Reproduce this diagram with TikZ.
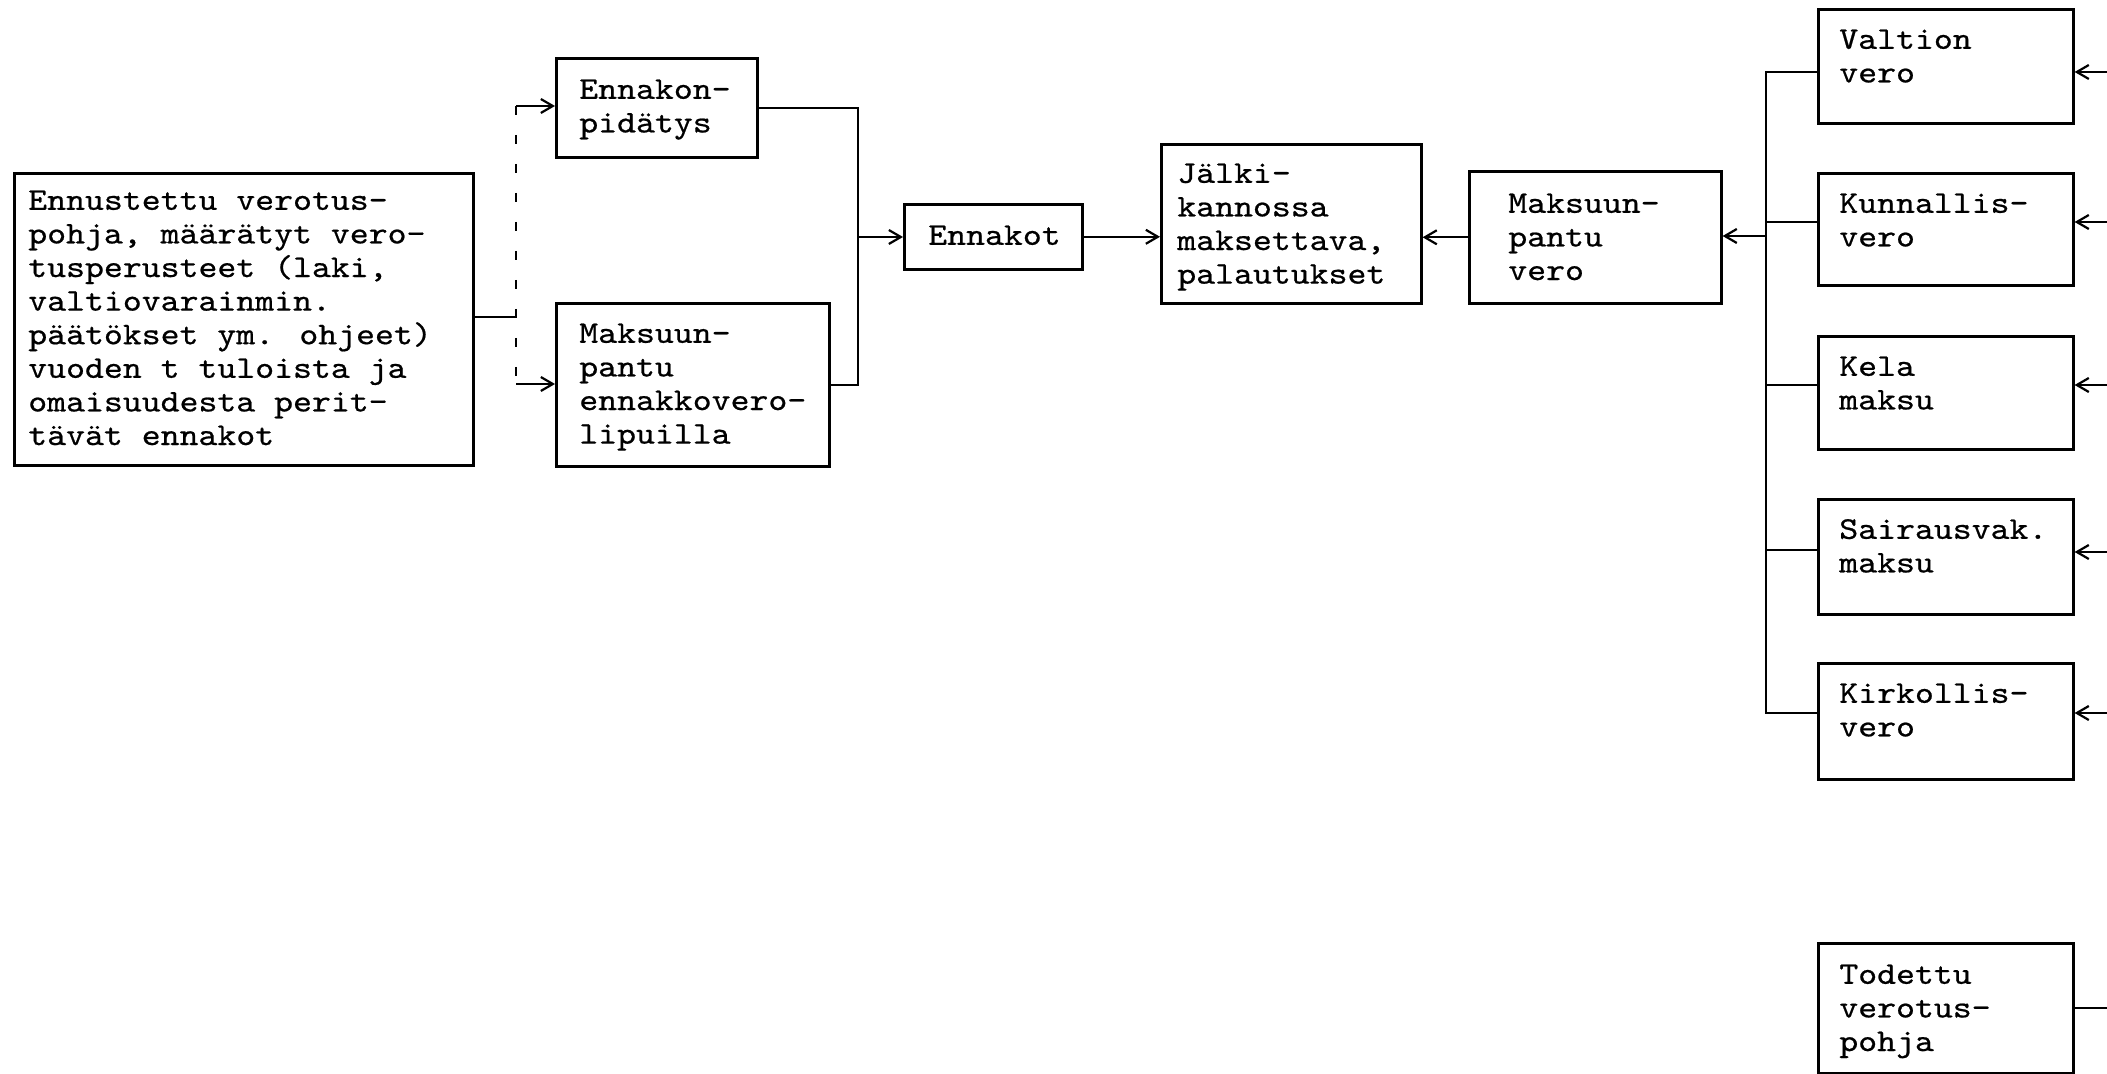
\documentclass[tikz,border=0pt]{standalone}
\usepackage{fontspec}
\usetikzlibrary{arrows.meta,calc}
\newfontfamily\tw[Extension=.otf,FakeStretch=1.14,FakeBold=0.6]{lmmono10-regular}
\newdimen\pxu \pxu=0.5pt
\newcommand{\bt}[5]{\parbox[c][#2\pxu][t]{#1\pxu}{\tw\fontsize{15.8pt}{16.8pt}\selectfont\raggedright\leftskip=#3\pxu\relax\hyphenpenalty=10000\exhyphenpenalty=10000\vspace*{#4\pxu}\strut #5}}
\tikzset{
  tbox/.style={draw, line width=1.3pt, inner sep=0pt, anchor=north west},
  conn/.style={line width=1.1pt},
  arr/.style={conn, -{Straight Barb[length=6pt,width=7pt]}},
  dsh/.style={line width=1.1pt, dash pattern=on 4.5pt off 10pt}
}
\begin{document}
\begin{tikzpicture}[x=0.5pt,y=-0.5pt]
\useasboundingbox[fill=white] (0,0) rectangle (2107,1074);
% boxes
\node[tbox] (big) at (13,172) {\bt{459}{292}{14}{13}{Ennustettu verotus-\\pohja, määrätyt vero-\\tusperusteet (laki,\\valtiovarainmin.\\päätökset ym. ohjeet)\\vuoden t tuloista ja\\omaisuudesta perit-\\tävät ennakot}};
\node[tbox] (ennak) at (555,57) {\bt{201}{99}{23}{17}{Ennakon-\\pidätys}};
\node[tbox] (mak1) at (555,302) {\bt{273}{163}{23}{16}{Maksuun-\\pantu\\ennakkovero-\\lipuilla}};
\node[tbox] (ennakot) at (903,203) {\bt{178}{65}{24}{17}{Ennakot}};
\node[tbox] (jalki) at (1160,143) {\bt{260}{159}{16}{15}{Jälki-\\kannossa\\maksettava,\\palautukset}};
\node[tbox] (mv) at (1468,170) {\bt{252}{132}{39}{18}{Maksuun-\\pantu\\vero}};
\node[tbox] (valt) at (1817,8) {\bt{255}{114}{21}{16}{Valtion\\vero}};
\node[tbox] (kun) at (1817,172) {\bt{255}{112}{21}{16}{Kunnallis-\\vero}};
\node[tbox] (kela) at (1817,335) {\bt{255}{113}{21}{16}{Kela\\maksu}};
\node[tbox] (sair) at (1817,498) {\bt{255}{115}{21}{16}{Sairausvak.\\maksu}};
\node[tbox] (kirk) at (1817,662) {\bt{255}{116}{21}{16}{Kirkollis-\\vero}};
\node[tbox] (tod) at (1817,942) {\bt{255}{130}{21}{17}{Todettu\\verotus-\\pohja}};
% left part
\coordinate (dT) at (516,106);
\coordinate (dB) at (516,384);
\coordinate (dM) at (516,317);
\draw[conn] (big.east |- dM) -- (dM);
\draw[dsh] (dT) -- (dB);
\draw[arr] (dT) -- (dT -| ennak.west);
\draw[arr] (dB) -- (dB -| mak1.west);
\coordinate (j1) at (858,237);
\draw[conn] (ennak.east) -| (j1) |- (mak1.east);
\draw[arr] (j1) -- (j1 -| ennakot.west);
\draw[arr] (ennakot.east) -- (ennakot.east -| jalki.west);
\draw[arr] (mv.west) -- (mv.west -| jalki.east);
% bus
\coordinate (bT) at (1766,72);
\coordinate (bB) at (1766,713);
\coordinate (bM) at (1766,236);
\coordinate (bK) at (1766,222);
\coordinate (bL) at (1766,385);
\coordinate (bS) at (1766,550);
\draw[conn] (valt.west |- bT) -- (bT) -- (bB) -- (kirk.west |- bB);
\draw[arr] (bM) -- (bM -| mv.east);
\draw[conn] (bK) -- (bK -| kun.west);
\draw[conn] (bL) -- (bL -| kela.west);
\draw[conn] (bS) -- (bS -| sair.west);
% right inputs
\coordinate (rV) at (2107,72);
\coordinate (rK) at (2107,222);
\coordinate (rL) at (2107,385);
\coordinate (rS) at (2107,552);
\coordinate (rR) at (2107,713);
\coordinate (rT) at (2107,1008);
\draw[arr] (rV) -- (rV -| valt.east);
\draw[arr] (rK) -- (rK -| kun.east);
\draw[arr] (rL) -- (rL -| kela.east);
\draw[arr] (rS) -- (rS -| sair.east);
\draw[arr] (rR) -- (rR -| kirk.east);
\draw[conn] (tod.east |- rT) -- (rT);
\end{tikzpicture}
\end{document}
